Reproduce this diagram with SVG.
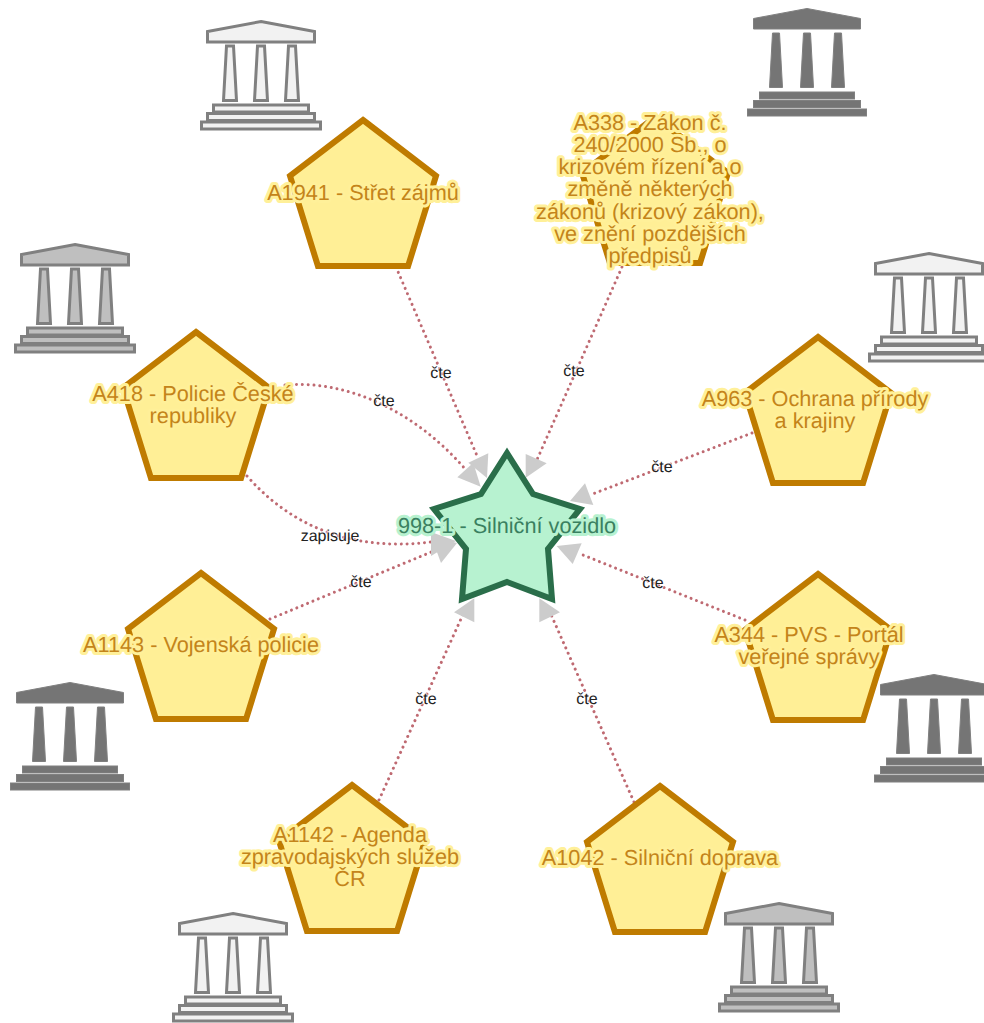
<svg xmlns="http://www.w3.org/2000/svg" width="984" height="1023" viewBox="0 0 984 1023">
<style>
text{text-rendering:geometricPrecision}
.edge{fill:none;stroke:#bf6a72;stroke-width:3;stroke-linecap:round;stroke-dasharray:0.01 5.8}
.head{fill:#ccc}
.el{font:16px "Liberation Sans",Arial,sans-serif;fill:#222;text-anchor:middle;paint-order:stroke;stroke:#fff;stroke-width:2;stroke-opacity:.6;stroke-linejoin:round}
.pent{fill:#ffef96;stroke:#bf7b00;stroke-width:6;stroke-linejoin:miter}
.star{fill:#b7f2d0;stroke:#2a6e4a;stroke-width:6;stroke-linejoin:miter}
.nl{font:21.7px "Liberation Sans",Arial,sans-serif;fill:#c4841a;text-anchor:middle;paint-order:stroke;stroke:#fff099;stroke-width:6;stroke-linejoin:round}
.sl{font:21.7px "Liberation Sans",Arial,sans-serif;fill:#3a8060;text-anchor:middle;paint-order:stroke;stroke:#b7f2d0;stroke-width:6;stroke-linejoin:round}
.tl{fill:#f2f2f2;stroke:#808080;stroke-width:3}
.tg{fill:#bfbfbf;stroke:#808080;stroke-width:3}
.td{fill:#757575;stroke:#808080;stroke-width:1}
</style>
<defs>
<path id="pentagon" d="M0 0L73 55.8L45.1 146H-45.1L-73 55.8Z"/>
<g id="temple">
<path d="M0 0L53.5 10V20.500H-53.5V10Z"/>
<path d="M-34.500 24.500H-27.500L-24.500 79H-37.500Z"/>
<path d="M-3.500 24.500H3.500L6.500 79H-6.500Z"/>
<path d="M27.500 24.500H34.500L37.500 79H24.500Z"/>
<rect x="-47.500" y="83.500" width="95" height="7"/>
<rect x="-53.500" y="92" width="107" height="7"/>
<rect x="-59.500" y="100.500" width="119" height="7"/>
</g>
</defs>
<g id="connectors">
<path class="edge" d="M396 267L478 458"/>
<path class="edge" d="M622 267L536 462"/>
<path class="edge" d="M752 433L590 495"/>
<path class="edge" d="M745 620L578 553"/>
<path class="edge" d="M634 802L549 610"/>
<path class="edge" d="M379 800L465 610"/>
<path class="edge" d="M270 619L436 550"/>
<path class="edge" d="M285 385C340 380 410 405 466 470"/>
<path class="edge" d="M247 476C290 525 350 552 431 542"/>
<path class="head" d="M468.300 462.700L488.300 453.300L487 478Z"/>
<path class="head" d="M457.300 477.300L473.300 462.700L480.700 486.700Z"/>
<path class="head" d="M525.700 454L546.700 463.300L525.700 477.700Z"/>
<path class="head" d="M585 483.300L593.300 505L570 501Z"/>
<path class="head" d="M581.700 543.300L572.700 564L556.700 546Z"/>
<path class="head" d="M539.300 598.300L560 612.300L539.300 622.300Z"/>
<path class="head" d="M474.300 598.300L474.300 622.300L454 612.300Z"/>
<path class="head" d="M431 536L441 563L457 543Z"/>
<path class="head" d="M431 532L431 556L456 541Z"/>
<text class="el" x="441" y="377.500">čte</text>
<text class="el" x="574" y="375.500">čte</text>
<text class="el" x="384" y="405.500">čte</text>
<text class="el" x="662" y="471.500">čte</text>
<text class="el" x="653" y="587.500">čte</text>
<text class="el" x="361" y="586.500">čte</text>
<text class="el" x="426" y="703.500">čte</text>
<text class="el" x="587" y="703.500">čte</text>
<text class="el" x="330" y="540.500">zapisuje</text>
</g>
<g id="t1"><use href="#temple" class="tl" x="261" y="21.500"/></g>
<g id="t2"><use href="#temple" class="td" x="807" y="8.500"/></g>
<g id="t3"><use href="#temple" class="tl" x="929" y="253.500"/></g>
<g id="t4"><use href="#temple" class="tg" x="75" y="244.500"/></g>
<g id="t5"><use href="#temple" class="td" x="70" y="682.500"/></g>
<g id="t6"><use href="#temple" class="td" x="934" y="674.500"/></g>
<g id="t7"><use href="#temple" class="tl" x="233" y="913.500"/></g>
<g id="t8"><use href="#temple" class="tg" x="779" y="903.500"/></g>
<g id="n-star"><path class="star" d="M507 453L533 494L580 509L548 549L552 599L507 582L462 599L466 549L434 509L481 494Z"/>
<text class="sl" x="507" y="532.500">998-1 - Silniční vozidlo</text></g>
<g id="n-a1941"><use href="#pentagon" class="pent" x="363" y="120"/><text class="nl" x="363" y="199.500">A1941 - Střet zájmů</text></g>
<g id="n-a338"><use href="#pentagon" class="pent" x="655" y="117"/>
<text class="nl"><tspan x="650" y="129.500">A338 - Zákon č.</tspan><tspan x="650" y="151.800">240/2000 Sb., o</tspan><tspan x="650" y="174.100">krizovém řízení a o</tspan><tspan x="650" y="196.400">změně některých</tspan><tspan x="650" y="218.700">zákonů (krizový zákon),</tspan><tspan x="650" y="241">ve znění pozdějších</tspan><tspan x="650" y="263.300">předpisů</tspan></text></g>
<g id="n-a963"><use href="#pentagon" class="pent" x="818" y="337"/><text class="nl"><tspan x="815" y="405.500">A963 - Ochrana přírody</tspan><tspan x="815" y="427.500">a krajiny</tspan></text></g>
<g id="n-a344"><use href="#pentagon" class="pent" x="818" y="574"/><text class="nl"><tspan x="809" y="641.500">A344 - PVS - Portál</tspan><tspan x="809" y="663.500">veřejné správy</tspan></text></g>
<g id="n-a1042"><use href="#pentagon" class="pent" x="660" y="786"/><text class="nl" x="660" y="864.500">A1042 - Silniční doprava</text></g>
<g id="n-a1142"><use href="#pentagon" class="pent" x="352" y="785"/><text class="nl"><tspan x="350" y="841.500">A1142 - Agenda</tspan><tspan x="350" y="863.500">zpravodajských služeb</tspan><tspan x="350" y="885.500">ČR</tspan></text></g>
<g id="n-a1143"><use href="#pentagon" class="pent" x="201" y="573"/><text class="nl" x="201" y="651.500">A1143 - Vojenská policie</text></g>
<g id="n-a418"><use href="#pentagon" class="pent" x="196" y="332"/><text class="nl"><tspan x="193" y="400.500">A418 - Policie České</tspan><tspan x="193" y="422.500">republiky</tspan></text></g>
</svg>
